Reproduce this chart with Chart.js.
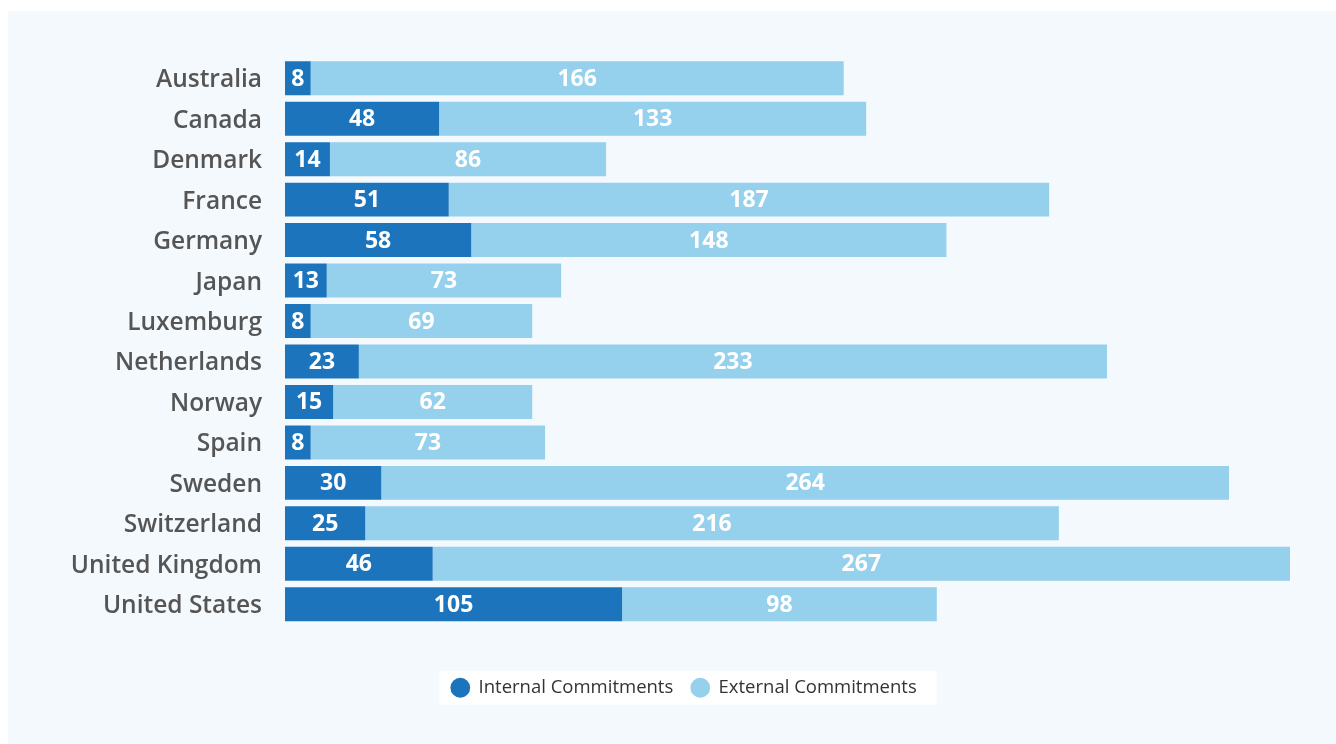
<!DOCTYPE html>
<html>
<head>
<meta charset="utf-8">
<script src="https://cdn.jsdelivr.net/npm/chart.js@4/dist/chart.umd.min.js"></script>
<style>
  html, body { margin: 0; padding: 0; background: #ffffff; }
  #panel { position: absolute; left: 8px; top: 11px; width: 1328px; height: 733px; background: #f4f9fd; }
  #c { display: block; }
</style>
</head>
<body>
<div id="panel"><canvas id="c" width="1328" height="733"></canvas></div>
<script>
const categories = ["Australia","Canada","Denmark","France","Germany","Japan","Luxemburg","Netherlands","Norway","Spain","Sweden","Switzerland","United Kingdom","United States"];
const internalCommitments = [8,48,14,51,58,13,8,23,15,8,30,25,46,105];
const externalCommitments = [166,133,86,187,148,73,69,233,62,73,264,216,267,98];
const seriesNames = ["Internal Commitments","External Commitments"];
const seriesColors = ["#1c75bc","#95d1ec"];

const valueLabels = {
  id: 'valueLabels',
  afterDatasetsDraw(chart) {
    const ctx = chart.ctx;
    ctx.save();
    ctx.fillStyle = '#ffffff';
    ctx.font = '700 23px "Open Sans"';
    ctx.textAlign = 'center';
    ctx.textBaseline = 'middle';
    chart.data.datasets.forEach((ds, di) => {
      const meta = chart.getDatasetMeta(di);
      meta.data.forEach((bar, i) => {
        const v = ds.data[i];
        ctx.fillText(String(v), (bar.x + bar.base) / 2, bar.y + 1);
      });
    });
    ctx.restore();
  }
};

// nudge the legend block so it is centred like the original layout
const legendShift = {
  id: 'legendShift',
  afterLayout(chart) {
    const lg = chart.legend;
    if (lg) { lg.left += 10; lg.right += 10; }
  }
};

const legendBox = {
  id: 'legendBox',
  beforeDraw(chart) {
    const lg = chart.legend;
    if (!lg || !lg.legendHitBoxes || !lg.legendHitBoxes.length) return;
    const hb = lg.legendHitBoxes;
    const first = hb[0], last = hb[hb.length - 1];
    const ctx = chart.ctx;
    const left = first.left - 12;
    const right = last.left + last.width + 20;
    const cy = first.top + first.height / 2;
    ctx.save();
    ctx.fillStyle = '#ffffff';
    ctx.fillRect(left, cy - 17, right - left, 34);
    ctx.restore();
  }
};

new Chart(document.getElementById('c'), {
  type: 'bar',
  data: {
    labels: categories,
    datasets: [
      { label: seriesNames[0], data: internalCommitments, backgroundColor: seriesColors[0], borderWidth: 0 },
      { label: seriesNames[1], data: externalCommitments, backgroundColor: seriesColors[1], borderWidth: 0 }
    ]
  },
  options: {
    indexAxis: 'y',
    responsive: false,
    animation: false,
    events: [],
    layout: { padding: { top: 47, right: 46, left: 50, bottom: 37 } },
    datasets: { bar: { barPercentage: 0.84, categoryPercentage: 1.0 } },
    scales: {
      x: {
        stacked: true, min: 0, max: 313,
        grid: { display: false }, border: { display: false },
        ticks: { display: false },
        afterFit(scale) { scale.height = 36; }
      },
      y: {
        stacked: true,
        grid: { display: false },
        border: { display: false },
        ticks: { color: '#555555', font: { family: '"Open Sans"', size: 24.5, weight: '600' }, padding: 15, labelOffset: 2 },
        afterFit(scale) { scale.width = 227; }
      }
    },
    plugins: {
      tooltip: { enabled: false },
      legend: {
        position: 'bottom',
        labels: {
          usePointStyle: true,
          pointStyle: 'circle',
          boxWidth: 18,
          boxHeight: 14,
          padding: 18,
          color: '#333333',
          font: { family: '"Open Sans"', size: 18.5, weight: '400' }
        }
      }
    }
  },
  plugins: [legendShift, valueLabels, legendBox]
});
</script>
</body>
</html>
